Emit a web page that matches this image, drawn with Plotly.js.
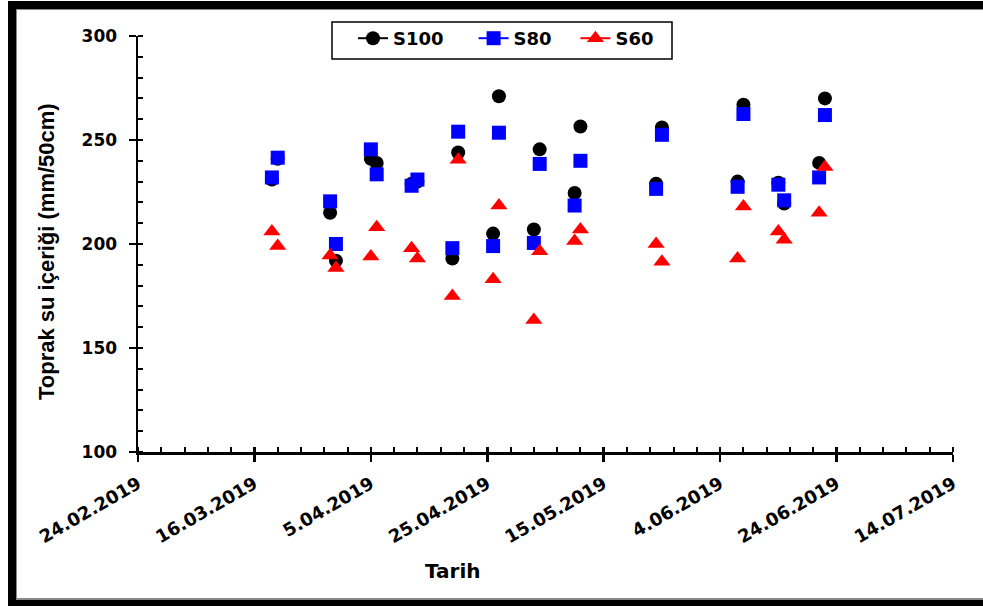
<!DOCTYPE html>
<html>
<head>
<meta charset="utf-8">
<script src="https://cdn.plot.ly/plotly-3.0.1.min.js"></script>
<style>
  html, body { margin: 0; padding: 0; background: #fff; }
  #wrap { position: relative; width: 983px; height: 606px; overflow: hidden; }
  #chart { position: absolute; left: 0; top: 0; width: 983px; height: 606px; }
  #frame { position: absolute; left: 8px; top: 1px; width: 1000px; height: 591px;
           border-left: 8px solid #000; border-top: 8px solid #000; border-bottom: 6px solid #000;
           pointer-events: none; }
  #frame2 { position: absolute; left: 16px; top: 9px; width: 1000px; height: 588px;
            border-left: 1px solid #888; border-top: 1px solid #888; border-bottom: 2px solid #888;
            pointer-events: none; }
</style>
</head>
<body>
<div id="wrap">
  <div id="chart"></div>
  <div id="frame"></div>
  <div id="frame2"></div>
</div>
<script>
const dates = ['2019-03-19','2019-03-20','2019-03-29','2019-03-30','2019-04-05','2019-04-06',
               '2019-04-12','2019-04-13','2019-04-19','2019-04-20','2019-04-26','2019-04-27',
               '2019-05-03','2019-05-04','2019-05-10','2019-05-11','2019-05-24','2019-05-25',
               '2019-06-07','2019-06-08','2019-06-14','2019-06-15','2019-06-21','2019-06-22'];
const S100 = [231, 241, 215, 192, 241, 239, 229, 230, 193, 244, 205, 271,
              207, 245.5, 224.5, 256.5, 229, 256, 230, 267, 229.5, 219.5, 239, 270];
const S80  = [232, 241.5, 220.5, 200, 245.5, 233.5, 228, 231, 198, 254, 199, 253.5,
              200.5, 238.5, 218.5, 240, 226.5, 252.5, 227.5, 262.5, 228.5, 221, 232, 262];
const S60  = [206, 199, 194.5, 188.5, 194, 208, 198, 193, 175, 240.5, 183, 218.5,
              163.5, 196.5, 201.5, 207, 200, 191.5, 193, 218, 206, 202, 215, 237];
const seriesNames = ['S100', 'S80', 'S60'];
const xRange = ['2019-02-24', '2019-07-14'];
const yRange = [100, 300];
const xTitle = 'Tarih';
const yTitle = 'Toprak su içeriği (mm/50cm)';

const colors = ['#000000', '#0000ff', '#ff0000'];
const symbols = ['circle', 'square', 'triangle-up'];
const sizes = [14, 14, 15];
const legendPad = ['\u00a0\u00a0\u00a0\u00a0', '\u00a0\u00a0\u00a0', ''];
const values = [S100, S80, S60];
const DAY = 86400000;

const traces = [];
values.forEach((v, i) => {
  traces.push({
    type: 'scatter', mode: 'markers', x: dates, y: v, name: seriesNames[i],
    showlegend: false, cliponaxis: false,
    marker: { symbol: symbols[i], size: sizes[i], color: colors[i], line: { width: 0 } }
  });
});
values.forEach((v, i) => {
  traces.push({
    type: 'scatter', mode: 'lines+markers', x: [null], y: [null], name: seriesNames[i] + legendPad[i],
    showlegend: true,
    line: { color: colors[i], width: 2 },
    marker: { symbol: symbols[i], size: sizes[i], color: colors[i] }
  });
});
// overlay axes for inward half of major ticks
traces.push({ type: 'scatter', mode: 'markers', x: [null], y: [null], xaxis: 'x2', yaxis: 'y2',
              showlegend: false, hoverinfo: 'skip' });

const L = 138, R = 30, T = 36, B = 154, W = 983, H = 606;
const pw = W - L - R, ph = H - T - B;
const px2x = p => (p - L) / pw;
const py2y = p => (H - B - p) / ph;

const layout = {
  width: W, height: H,
  margin: { l: L, r: R, t: T, b: B },
  paper_bgcolor: '#fff', plot_bgcolor: '#fff',
  font: { family: 'DejaVu Sans', color: '#000', weight: 'bold' },
  showlegend: true,
  legend: {
    orientation: 'h', x: px2x(353), y: py2y(20), xanchor: 'left', yanchor: 'top',
    bgcolor: 'rgba(0,0,0,0)', borderwidth: 0,
    font: { family: 'DejaVu Sans', size: 18, color: '#000', weight: 'bold' },
    tracegroupgap: 0
  },
  shapes: [{
    type: 'rect', xref: 'paper', yref: 'paper', layer: 'above',
    x0: px2x(332), x1: px2x(672), y0: py2y(59), y1: py2y(22),
    line: { color: '#000', width: 1.5 }, fillcolor: 'rgba(0,0,0,0)'
  }],
  xaxis: {
    type: 'date', range: xRange, tick0: xRange[0], dtick: 20 * DAY,
    tickformat: '%-d.%m.%Y', tickangle: -30,
    showgrid: false, zeroline: false,
    showline: true, linecolor: '#000', linewidth: 2.5,
    ticks: 'outside', ticklen: 7, tickwidth: 2.5, tickcolor: '#000',
    ticklabelstandoff: 5,
    tickfont: { family: 'DejaVu Sans', size: 18, color: '#000', weight: 'bold' },
    minor: { dtick: 4 * DAY, tick0: xRange[0], ticks: 'inside', ticklen: 5, tickwidth: 2, tickcolor: '#000', showgrid: false },
    fixedrange: true
  },
  yaxis: {
    range: yRange, dtick: 50, tick0: 100,
    showgrid: false, zeroline: false,
    showline: true, linecolor: '#000', linewidth: 2.5,
    ticks: 'outside', ticklen: 7, tickwidth: 2.5, tickcolor: '#000',
    ticklabelstandoff: 8,
    tickfont: { family: 'DejaVu Sans', size: 17, color: '#000', weight: 'bold' },
    minor: { dtick: 10, tick0: 100, ticks: 'inside', ticklen: 5, tickwidth: 2, tickcolor: '#000', showgrid: false },
    fixedrange: true
  },
  xaxis2: {
    type: 'date', overlaying: 'x', anchor: 'y2', range: xRange, tick0: xRange[0], dtick: 20 * DAY,
    showticklabels: false, showgrid: false, zeroline: false, showline: false,
    ticks: 'inside', ticklen: 5, tickwidth: 2.5, tickcolor: '#000', fixedrange: true
  },
  yaxis2: {
    overlaying: 'y', anchor: 'x2', range: yRange, dtick: 50, tick0: 100,
    showticklabels: false, showgrid: false, zeroline: false, showline: false,
    ticks: 'inside', ticklen: 5, tickwidth: 2.5, tickcolor: '#000', fixedrange: true
  },
  annotations: [{
    text: xTitle, xref: 'paper', yref: 'paper', x: px2x(453), y: py2y(571),
    xanchor: 'center', yanchor: 'middle', showarrow: false,
    font: { family: 'DejaVu Sans', size: 20, color: '#000', weight: 'bold' }
  }, {
    text: yTitle, xref: 'paper', yref: 'paper', x: px2x(47), y: py2y(252),
    xanchor: 'center', yanchor: 'middle', showarrow: false, textangle: -90,
    font: { family: 'Liberation Sans', size: 22, color: '#000', weight: 'bold' }
  }]
};

Plotly.newPlot('chart', traces, layout, { staticPlot: true, displayModeBar: false });
</script>
</body>
</html>
